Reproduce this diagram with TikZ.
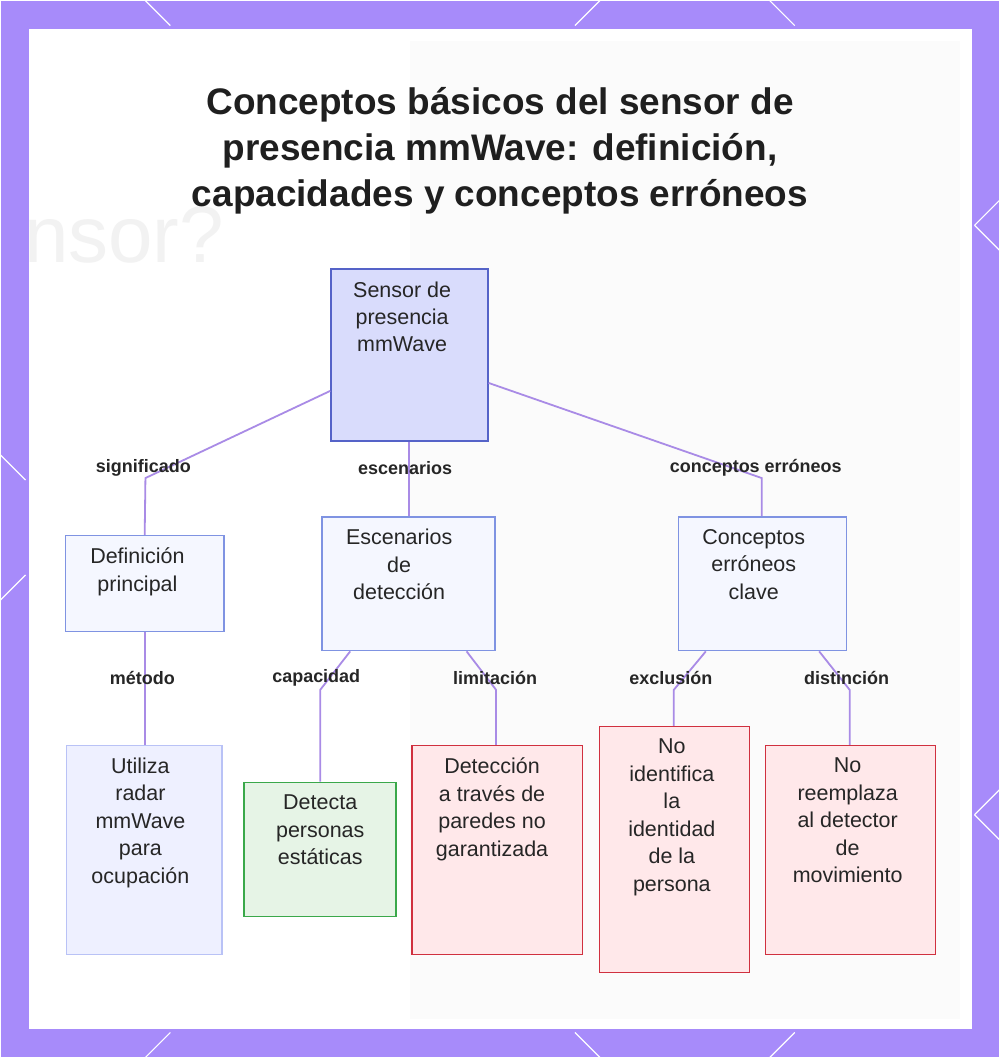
\documentclass[tikz,border=0pt]{standalone}
\usepackage{fontspec}
\setmainfont{Liberation Sans}
\begin{document}
\begin{tikzpicture}[x=1pt,y=-1pt,
 box/.style={draw,line width=1.5pt,anchor=north west,inner sep=0pt},
 txt/.style={anchor=north,align=center,font=\fontsize{21.5}{27.5}\selectfont,text=black!85,inner sep=0pt},
 lab/.style={font=\fontsize{18}{20}\selectfont\bfseries,text=black!85},
 edge/.style={draw=edgec,line width=1.8pt},
 corner/.style={draw=white,line width=1.2pt}]
\definecolor{frame}{HTML}{A78BFA}
\definecolor{edgec}{HTML}{A98BE6}
\definecolor{bluef}{HTML}{D9DCFC}\definecolor{blued}{HTML}{5563C8}
\definecolor{lbf}{HTML}{F5F7FF}\definecolor{lbd}{HTML}{7F93E2}
\definecolor{pbf}{HTML}{EEF0FF}\definecolor{pbd}{HTML}{B9C2F6}
\definecolor{gf}{HTML}{E6F4E6}\definecolor{gd}{HTML}{3AA84A}
\definecolor{rf}{HTML}{FFE8EA}\definecolor{rd}{HTML}{D0303F}
\fill[frame] (0,0) rectangle (1000,1058);
\fill[white] (28,28) rectangle (972,1030);
\fill[black!1.5] (410,40) rectangle (960,1020);
\node[font=\fontsize{80}{80}\selectfont,text=black!5,anchor=west] (bg) at (20,235) {nsor?};
\foreach \a/\b/\c/\d in {145/0/170/25, 600/0/575/25, 770/0/795/25, 1000/200/975/225, 1000/250/975/225, 0/455/25/480, 0/600/25/575, 1000/790/975/815, 1000/840/975/815, 145/1058/170/1033, 600/1058/575/1033, 770/1058/795/1033}
  \draw[corner] (\a,\b) -- (\c,\d);
\node[align=center,font=\fontsize{37}{46}\selectfont\bfseries,text=black!88] (title) at (500,150) {Conceptos básicos del sensor de\\presencia mmWave: definición,\\capacidades y conceptos erróneos};
% boxes
\node[box,draw=blued,fill=bluef,minimum width=157,minimum height=172] (root) at (330,268) {};
\node[box,draw=lbd,fill=lbf,minimum width=159,minimum height=96] (def) at (64,535) {};
\node[box,draw=lbd,fill=lbf,minimum width=173,minimum height=134] (esc) at (321,516) {};
\node[box,draw=lbd,fill=lbf,minimum width=168,minimum height=134] (con) at (678,516) {};
\node[box,draw=pbd,fill=pbf,minimum width=156,minimum height=209] (util) at (65,745) {};
\node[box,draw=gd,fill=gf,minimum width=152,minimum height=134] (det) at (243,782) {};
\node[box,draw=rd,fill=rf,minimum width=171,minimum height=209] (par) at (411,745) {};
\node[box,draw=rd,fill=rf,minimum width=150,minimum height=246] (ide) at (599,726) {};
\node[box,draw=rd,fill=rf,minimum width=170,minimum height=209] (mov) at (765,745) {};
% texts
\node[txt] (t1) at (402,281) {Sensor de\\presencia\\mmWave};
\node[txt] (t2) at (137,548) {Definición\\principal};
\node[txt] (t3) at (399,529) {Escenarios\\de\\detección};
\node[txt] (t4) at (754,529) {Conceptos\\erróneos\\clave};
\node[txt] (t5) at (140,758) {Utiliza\\radar\\mmWave\\para\\ocupación};
\node[txt] (t6) at (320,795) {Detecta\\personas\\estáticas};
\node[txt] (t7) at (492,758) {Detección\\a través de\\paredes no\\garantizada};
\node[txt] (t8) at (672,739) {No\\identifica\\la\\identidad\\de la\\persona};
\node[txt] (t9) at (848,758) {No\\reemplaza\\al detector\\de\\movimiento};
% edges
\path[edge] ([yshift=-36pt]root.west) -- (145,478) -- (def.north);
\path[edge] (root.south) -- (esc.north -| root.south);
\path[edge] ([yshift=-28pt]root.east) -- (762,478) -- (762,516);
\path[edge] (def.south) -- (util.north -| def.south);
\path[edge] ([xshift=29pt]esc.south west) -- (320,690) -- (320,782);
\path[edge] ([xshift=-29pt]esc.south east) -- (496,690) -- (496,745);
\path[edge] ([xshift=28pt]con.south west) -- (674,690) -- (674,726);
\path[edge] ([xshift=-28pt]con.south east) -- (850,690) -- (850,745);
% labels
\node[lab] (l1) at (143,468) {significado};
\node[lab] (l2) at (405,468) {escenarios};
\node[lab] (l3) at (756,468) {conceptos erróneos};
\node[lab] (l4) at (142,678) {método};
\node[lab] (l5) at (316,678) {capacidad};
\node[lab] (l6) at (495,678) {limitación};
\node[lab] (l7) at (671,678) {exclusión};
\node[lab] (l8) at (847,678) {distinción};
\end{tikzpicture}
\end{document}
